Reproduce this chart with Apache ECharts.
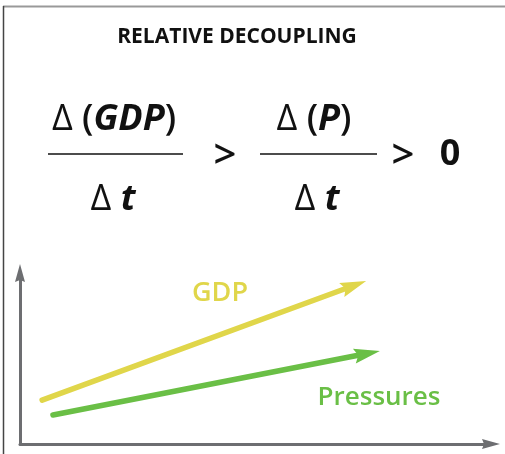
<!DOCTYPE html>
<html>
<head>
<meta charset="utf-8">
<script src="https://cdn.jsdelivr.net/npm/echarts@6/dist/echarts.min.js"></script>
<style>
  html, body { margin: 0; padding: 0; background: #fff; }
  #main { width: 505px; height: 454px; }
</style>
</head>
<body>
<div id="main"></div>
<script>
// data (axis units 0..100)
var seriesNames = ['GDP', 'Pressures'];
var gdpLine = [[4.7, 25.7], [70.9, 92.7]];
var pressuresLine = [[7.0, 17.0], [73.7, 52.9]];
var seriesColors = ['#e0d64a', '#6abf46'];

var FONT = '"Open Sans", "Noto Sans", sans-serif';
var headPath = 'path://M7.5,0 L15,26 L7.5,22 L0,26 Z';
var axisHead = 'path://M5,0 L10,18 L5,16 L0,18 Z';

var myChart = echarts.init(document.getElementById('main'));

function txt(text, x, y, size, weight, style, color) {
    return {
        type: 'text',
        style: {
            text: text, x: x, y: y,
            fill: color || '#111',
            font: (style || 'normal') + ' ' + (weight || 'normal') + ' ' + size + 'px ' + FONT,
            textAlign: 'center', textVerticalAlign: 'middle'
        }
    };
}

// fraction parts: regular delta, semibold parens, bold italic symbols
function fracPart(parts, x, y) {
    return {
        type: 'text',
        style: {
            text: parts, x: x, y: y, fill: '#111',
            textAlign: 'center', textVerticalAlign: 'middle',
            rich: {
                d: { font: 'normal 400 36px ' + FONT, fill: '#111' },
                p: { font: 'normal 600 36px ' + FONT, fill: '#111' },
                g: { font: 'italic 700 36px ' + FONT, fill: '#111' }
            }
        }
    };
}

var option = {
    animation: false,
    grid: { left: 20, right: 14, top: 273, bottom: 10, containLabel: false },
    xAxis: {
        type: 'value', min: 0, max: 100,
        axisLine: { show: true, lineStyle: { color: '#6d6e71', width: 3 },
            symbol: ['none', axisHead], symbolSize: [10, 18] },
        axisTick: { show: false }, axisLabel: { show: false }, splitLine: { show: false }
    },
    yAxis: {
        type: 'value', min: 0, max: 100,
        axisLine: { show: true, lineStyle: { color: '#6d6e71', width: 3 },
            symbol: ['none', axisHead], symbolSize: [10, 18] },
        axisTick: { show: false }, axisLabel: { show: false }, splitLine: { show: false }
    },
    series: [
        {
            name: seriesNames[0], type: 'lines', coordinateSystem: 'cartesian2d',
            symbol: ['none', headPath], symbolSize: [[15, 26], [15, 26]],
            lineStyle: { color: seriesColors[0], width: 5.5, opacity: 1, cap: 'round', curveness: 0 },
            data: [{ coords: gdpLine }]
        },
        {
            name: seriesNames[1], type: 'lines', coordinateSystem: 'cartesian2d',
            symbol: ['none', headPath], symbolSize: [[15, 26], [15, 26]],
            lineStyle: { color: seriesColors[1], width: 5.5, opacity: 1, cap: 'round', curveness: 0 },
            data: [{ coords: pressuresLine }]
        }
    ],
    graphic: [
        // frame
        { type: 'line', shape: { x1: 3, y1: 6.5, x2: 505, y2: 6.5 }, style: { stroke: '#999', lineWidth: 2 } },
        { type: 'line', shape: { x1: 3.5, y1: 6, x2: 3.5, y2: 454 }, style: { stroke: '#444', lineWidth: 1.5 } },
        txt('RELATIVE DECOUPLING', 237, 37, 21, 700),
        fracPart('{d|Δ\u00a0}{p|(}{g|GDP}{p|)}', 114, 120),
        { type: 'line', shape: { x1: 48, y1: 154, x2: 183, y2: 154 }, style: { stroke: '#111', lineWidth: 1.5 } },
        fracPart('{d|Δ\u00a0}{g|t}', 113, 200),
        txt('>', 225, 157, 40, 600),
        fracPart('{d|Δ\u00a0}{p|(}{g|P}{p|)}', 314, 120),
        { type: 'line', shape: { x1: 260, y1: 154, x2: 377, y2: 154 }, style: { stroke: '#111', lineWidth: 1.5 } },
        fracPart('{d|Δ\u00a0}{g|t}', 317, 200),
        txt('>', 403, 157, 40, 600),
        txt('0', 450, 155, 36, 700),
        txt(seriesNames[0], 220, 293, 27, 600, 'normal', seriesColors[0]),
        txt(seriesNames[1], 379, 398, 26, 600, 'normal', seriesColors[1])
    ]
};
myChart.setOption(option);
</script>
</body>
</html>
